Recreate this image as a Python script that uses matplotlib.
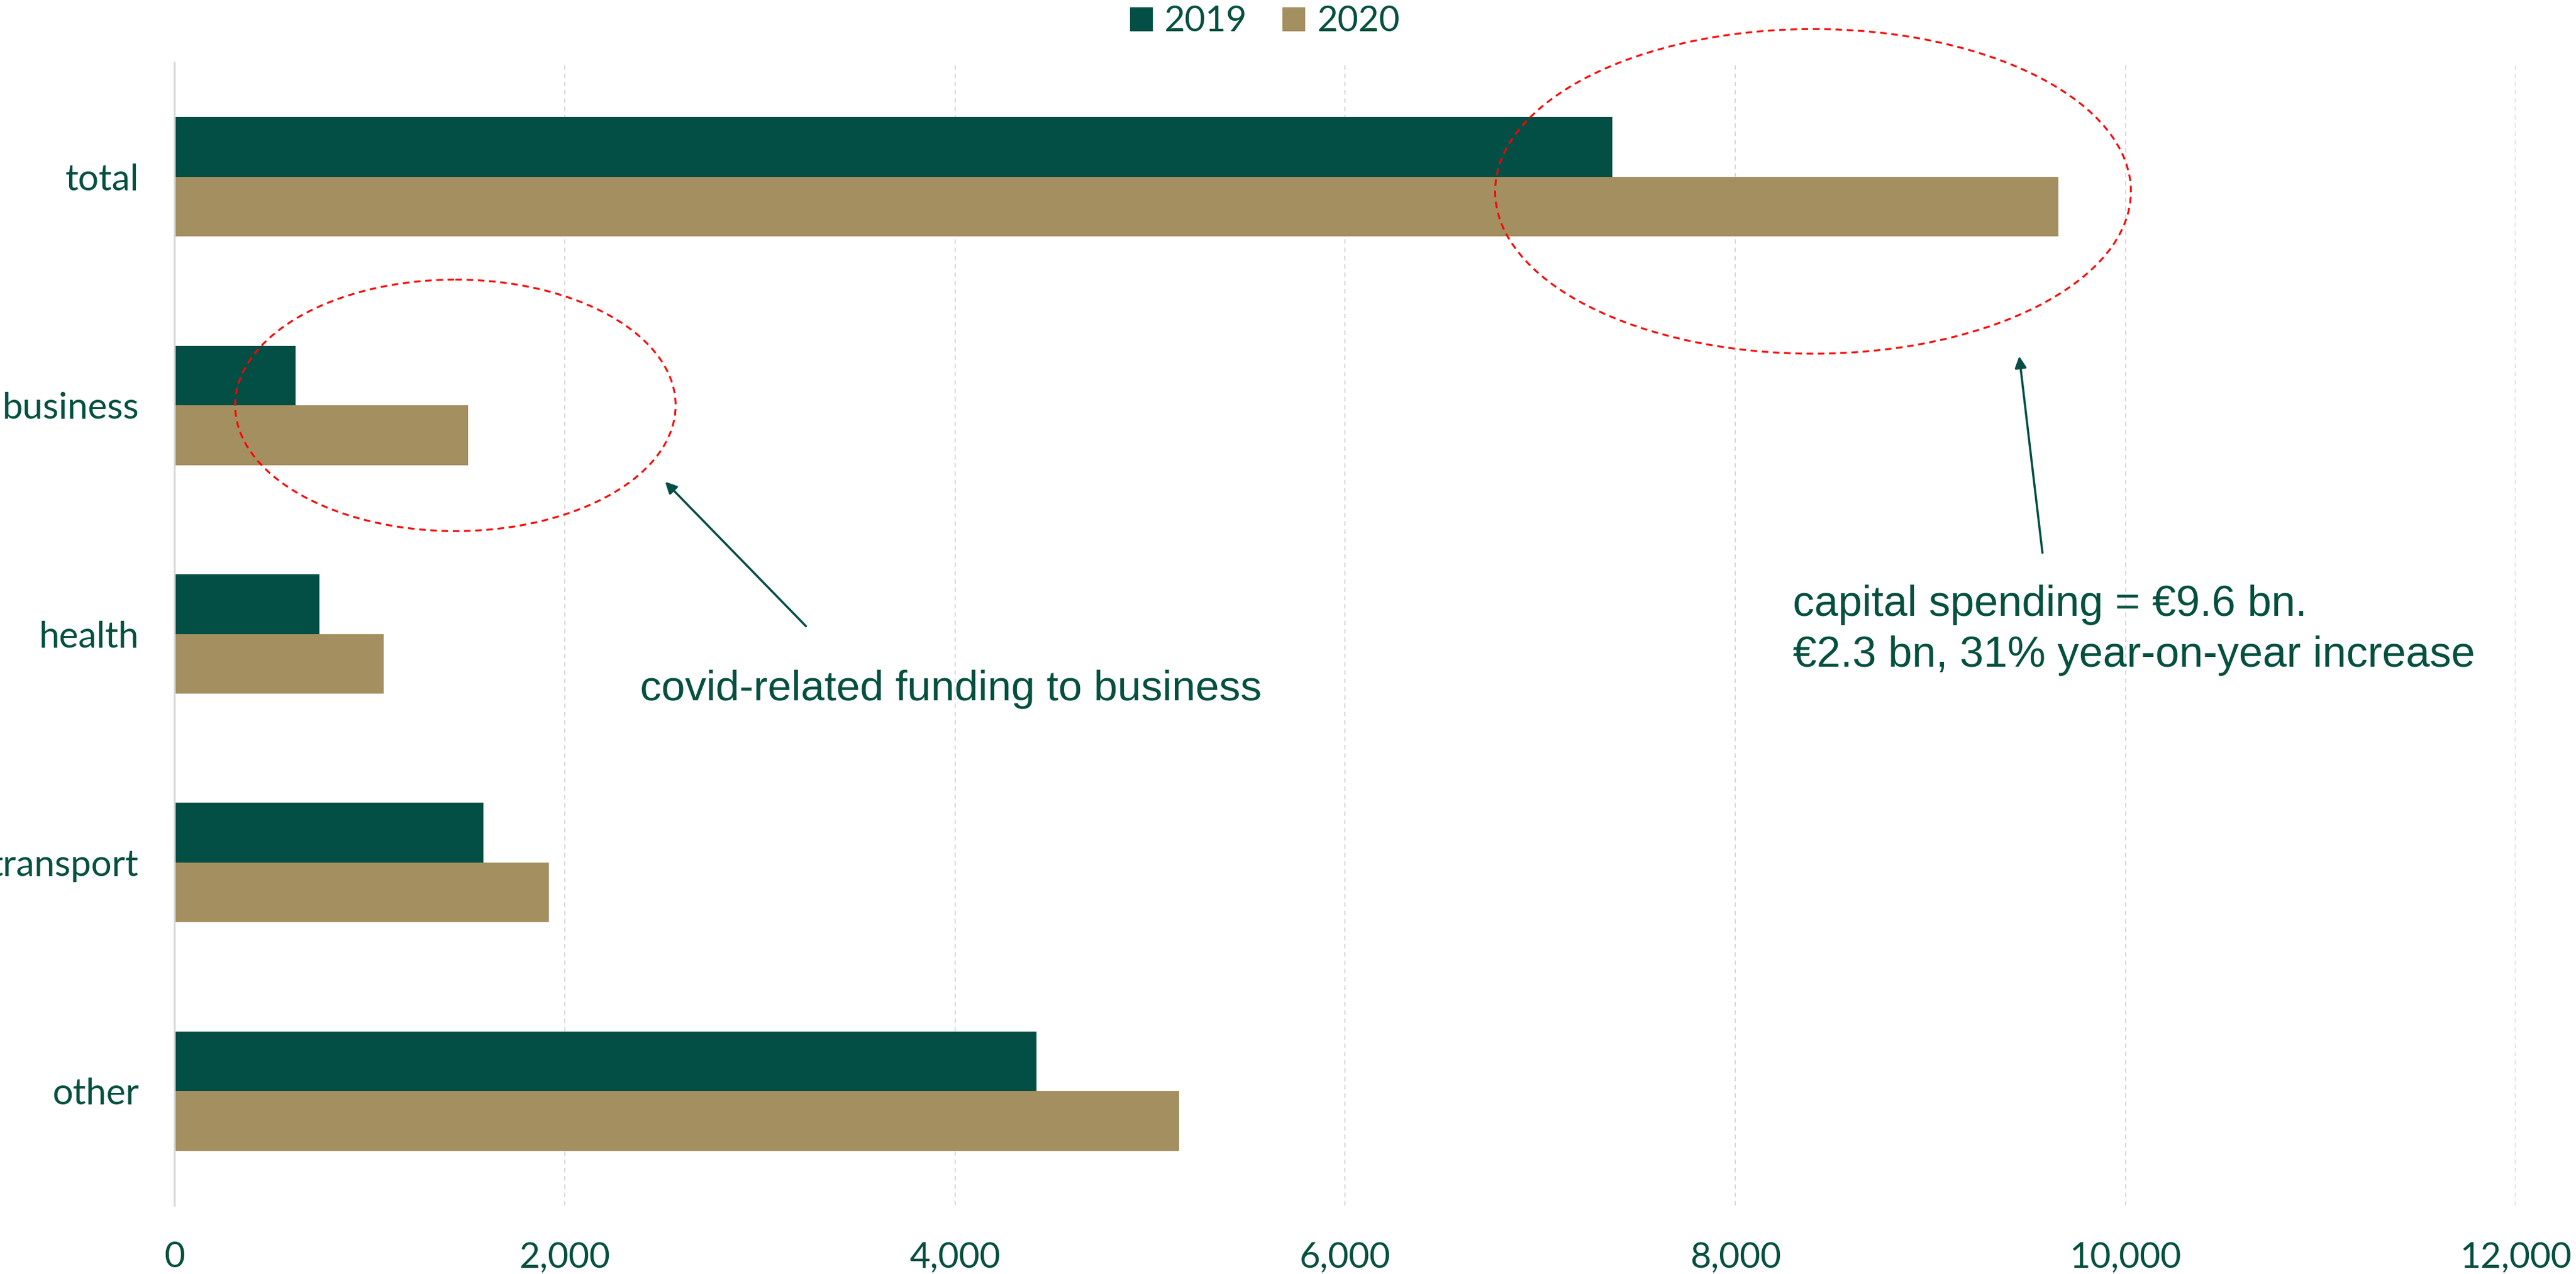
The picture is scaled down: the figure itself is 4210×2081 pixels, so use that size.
import numpy as np
import matplotlib
matplotlib.use("Agg")
import matplotlib.pyplot as plt
from matplotlib.patches import Ellipse, Patch

# datos del grafico (millones de euros)
categorias = ["total", "business", "health", "transport", "other"]
gasto_2019 = [7370, 620, 743, 1584, 4419]
gasto_2020 = [9655, 1505, 1072, 1919, 5150]
anios = ["2019", "2020"]
ticks_x = [0, 2000, 4000, 6000, 8000, 10000, 12000]

verde = "#034F45"
dorado = "#A48F60"
texto = "#04503F"
gris = "#D9D9D9"

fig = plt.figure(figsize=(42.1, 20.81), dpi=100)
ax = fig.add_axes([0.0678, 0.0538, 0.9088, 0.8972])

y = np.arange(len(categorias))
alto = 0.261
ax.barh(y - alto/2, gasto_2019, height=alto, color=verde, label=anios[0])
ax.barh(y + alto/2, gasto_2020, height=alto, color=dorado, label=anios[1])

ax.set_xlim(0, 12000)
ax.set_ylim(len(categorias) - 0.5, -0.5)
ax.set_xticks(ticks_x)
ax.set_xticklabels([f"{v:,}" for v in ticks_x])
ax.set_yticks(y)
ax.set_yticklabels(categorias)
ax.tick_params(axis="x", length=0, pad=42, labelsize=42, labelcolor=texto)
ax.tick_params(axis="y", length=0, pad=42, labelsize=43, labelcolor=texto)
for lab in ax.get_xticklabels() + ax.get_yticklabels():
    lab.set_fontfamily("Lato")

ax.grid(axis="x", color=gris, linestyle=(0, (3.5, 3)), linewidth=1.5)
ax.set_axisbelow(True)
for lado in ["top", "right", "bottom"]:
    ax.spines[lado].set_visible(False)
ax.spines["left"].set_color(gris)
ax.spines["left"].set_linewidth(2.2)

# elipses rojas
rojo = "#FF0000"
ax.add_patch(Ellipse((8398, 0.064), 3259, 1.42, fill=False, edgecolor=rojo,
                     linestyle=(0, (3.5, 2.5)), linewidth=2.2, clip_on=False))
ax.add_patch(Ellipse((1439, 1.0), 2258, 1.10, fill=False, edgecolor=rojo,
                     linestyle=(0, (3.5, 2.5)), linewidth=2.2, clip_on=False))

# flechas y textos
flecha = dict(arrowstyle="-|>", color=verde, lw=2.6, mutation_scale=28,
              shrinkA=0, shrinkB=0)
ax.annotate("", xy=(2514, 1.334), xytext=(3236, 1.966), arrowprops=flecha,
            annotation_clip=False)
ax.annotate("", xy=(9455, 0.785), xytext=(9574, 1.645), arrowprops=flecha,
            annotation_clip=False)

ax.text(2385, 2.29, "covid-related funding to business", fontsize=50,
        family="Liberation Sans", color=texto, va="baseline", ha="left")
ax.text(8295, 2.143, "capital spending = €9.6 bn.\n€2.3 bn, 31% year-on-year increase",
        fontsize=50.5, family="Liberation Sans", color=texto, va="baseline",
        ha="left", linespacing=1.33)

manejadores = [Patch(color=verde, label=anios[0]), Patch(color=dorado, label=anios[1])]
fig.legend(handles=manejadores, loc="upper center", bbox_to_anchor=(0.491, 0.996),
           ncol=2, frameon=False, prop={"family": "Lato", "size": 42},
           labelcolor=texto, handlelength=0.62, handleheight=0.62,
           handletextpad=0.34, columnspacing=1.0, borderpad=0, borderaxespad=0)

fig.savefig("out.png", dpi=100)
